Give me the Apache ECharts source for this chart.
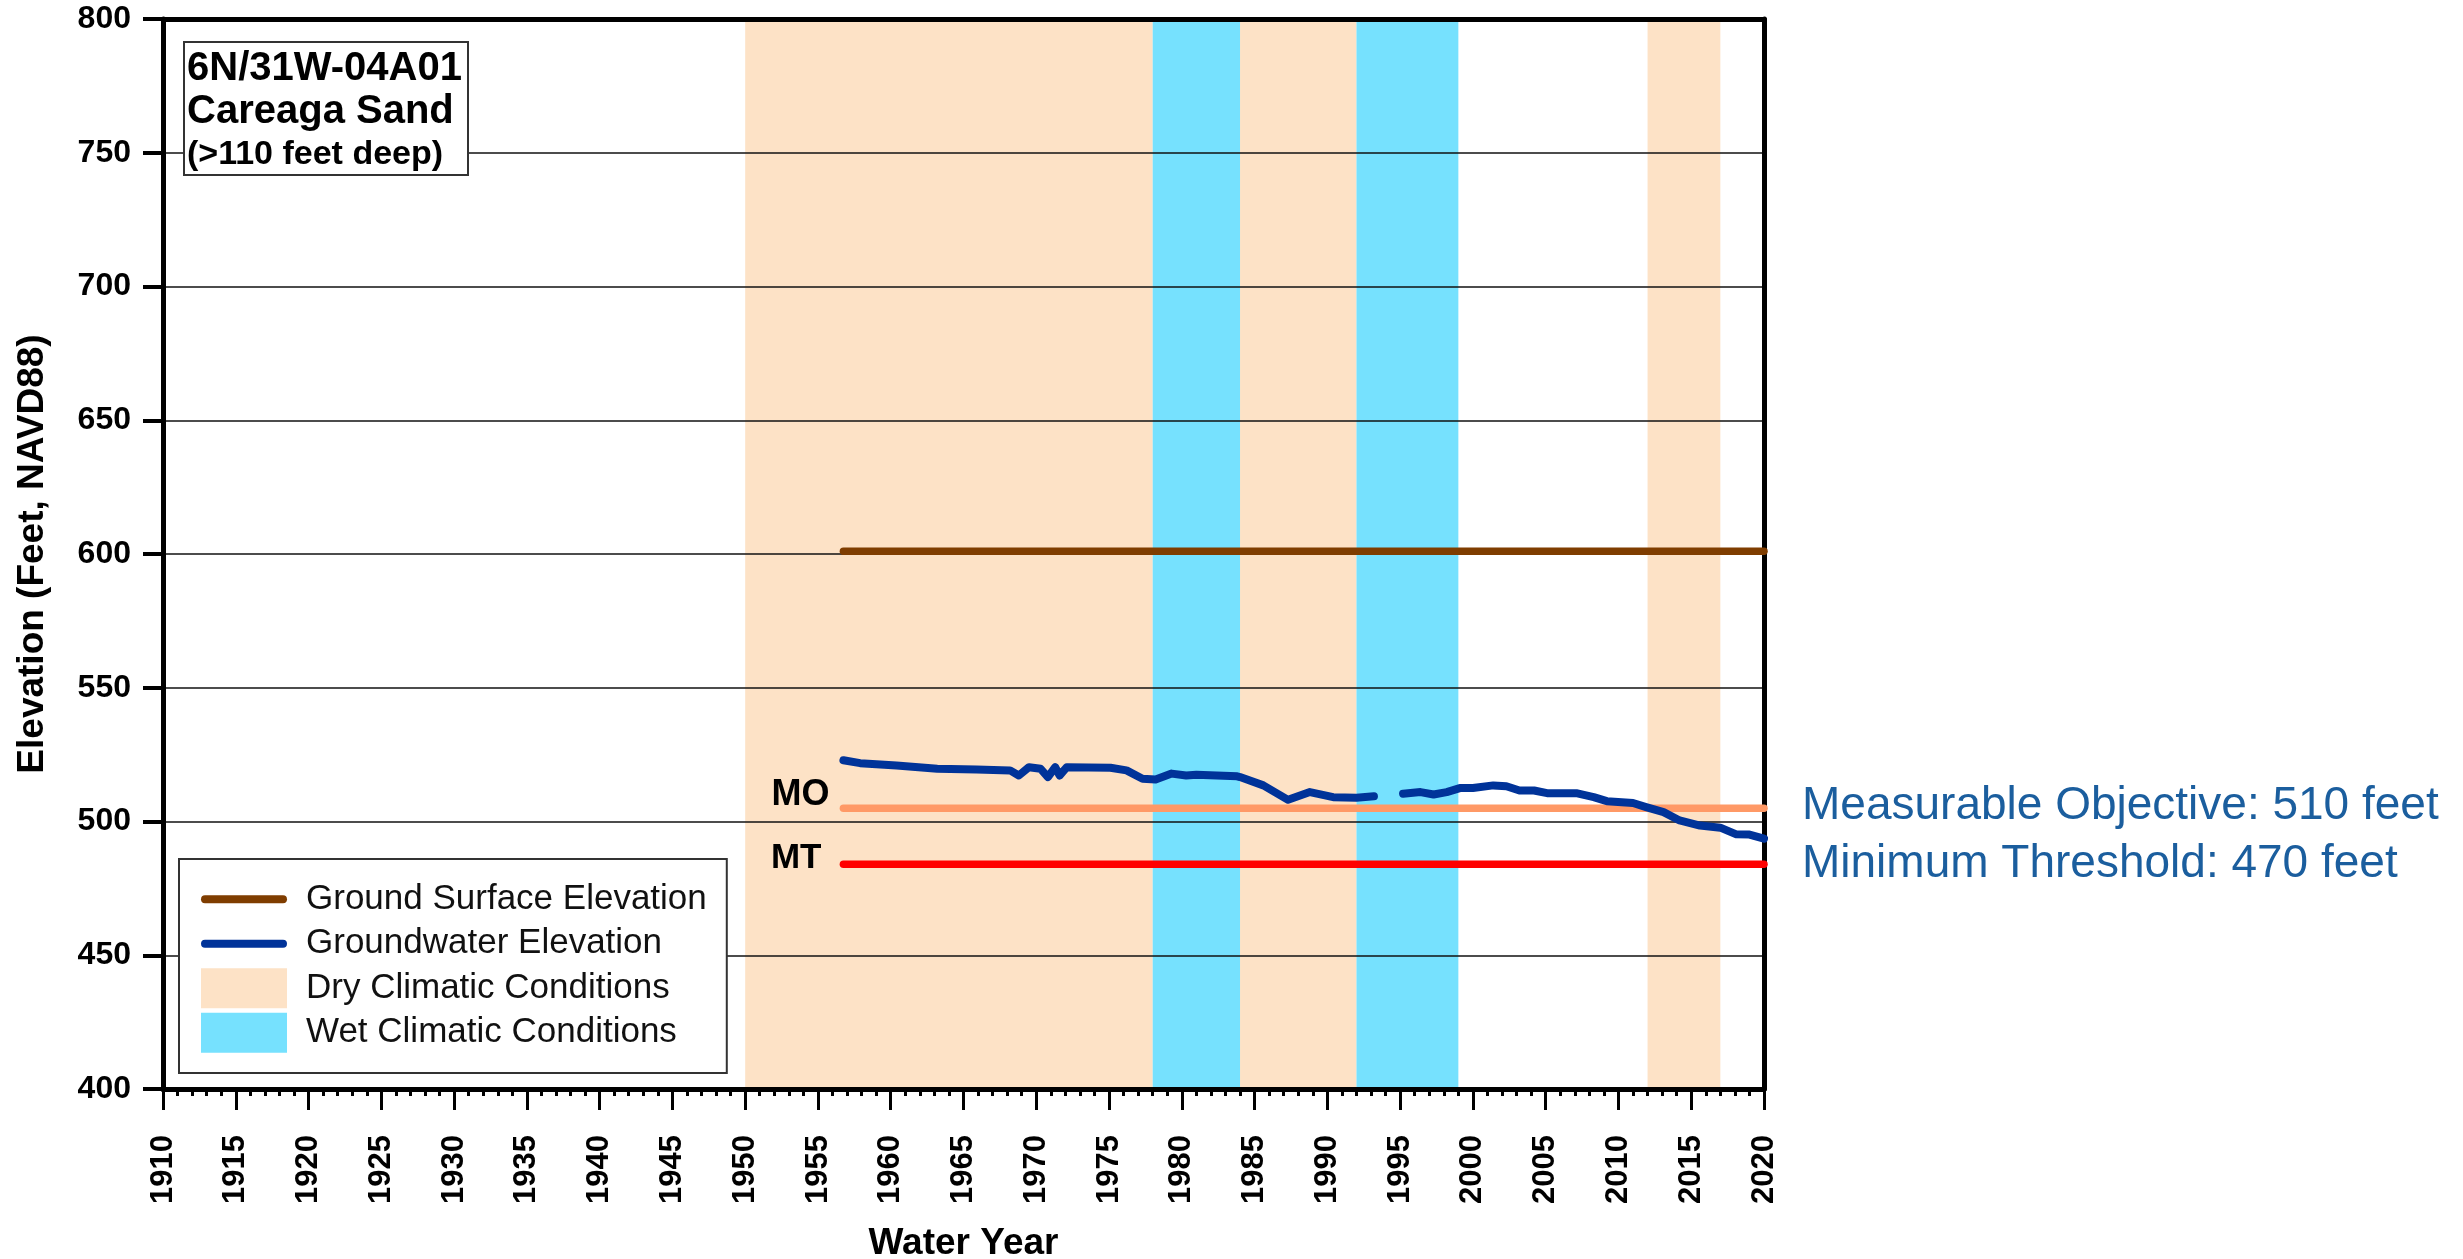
<!DOCTYPE html>
<html>
<head>
<meta charset="utf-8">
<script src="https://cdn.jsdelivr.net/npm/echarts@6/dist/echarts.min.js"></script>
<style>
html,body{margin:0;padding:0;background:#fff;}
#c{width:2463px;height:1259px;}
</style>
</head>
<body>
<div id="c"></div>
<script>
// ---- data ----
const xTickMin = 1910, xTickMax = 2020, xTickStep = 5;
const yTickMin = 400, yTickMax = 800, yTickStep = 50;

const dryBands = [[1950, 1978], [1984, 1992], [2012, 2017]];
const wetBands = [[1978, 1984], [1992, 1999]];

const groundYears = [1956.75, 2020];
const groundValues = [601, 601];

const moYears = [1956.75, 2020];
const moValues = [505, 505];
const mtYears = [1956.75, 2020];
const mtValues = [484, 484];

const gwYears = [1956.75, 1957.9, 1960.4, 1963.2, 1965.9, 1968.2, 1968.8, 1969.5, 1970.3, 1970.8,
  1971.3, 1971.6, 1972.1, 1975.1, 1976.2, 1977.3, 1978.2, 1979.3, 1980.3, 1981.0,
  1983.8, 1984.0, 1985.6, 1987.3, 1988.8, 1990.4, 1992.0, 1993.2, 1994.2, 1995.2,
  1996.4, 1997.3, 1998.2, 1999.1, 2000.0, 2001.4, 2002.3, 2003.2, 2004.2, 2005.1,
  2007.1, 2008.3, 2009.2, 2011.0, 2011.9, 2013.1, 2014.2, 2015.6, 2017.0, 2018.1,
  2019.0, 2020.0];
const gwValues = [522.9, 521.8, 520.9, 519.7, 519.4, 519.1, 517.2, 520.3, 519.7, 516.6,
  520.3, 517.2, 520.3, 520.1, 519.1, 516.0, 515.7, 517.9, 517.2, 517.5,
  516.9, 516.6, 513.5, 508.1, 511.0, 509.1, 508.9, 509.4, null, 510.4,
  511.0, 510.1, 511.0, 512.5, 512.5, 513.5, 513.2, 511.6, 511.6, 510.6,
  510.6, 509.1, 507.6, 506.9, 505.4, 503.5, 500.4, 498.5, 497.7, 495.2,
  495.1, 493.6];

const titleLines = ['6N/31W-04A01', 'Careaga Sand', '(>110 feet deep)'];
const moText = 'Measurable Objective: 510 feet';
const mtText = 'Minimum Threshold: 470 feet';

// ---- chart ----
const FONT = 'Liberation Sans, Arial, sans-serif';
const zip = (xs, ys) => xs.map((x, i) => [x, ys[i]]);
const linePath = 'path://M4,0 H82 A4,4 0 0 1 82,8 H4 A4,4 0 0 1 4,0 Z';

const chart = echarts.init(document.getElementById('c'), null, {renderer: 'canvas'});

const option = {
  animation: false,
  backgroundColor: '#fff',
  textStyle: {fontFamily: FONT},
  grid: {left: 163, right: 699, top: 19, bottom: 170, containLabel: false, outerBoundsMode: 'none'},
  title: {
    left: 184, top: 40,
    text: '{a|' + titleLines[0] + '}\n{a|' + titleLines[1] + '}\n{b|' + titleLines[2] + '}',
    textStyle: {
      rich: {
        a: {fontSize: 40, fontWeight: 'bold', lineHeight: 42.5, color: '#000', fontFamily: FONT},
        b: {fontSize: 34, fontWeight: 'bold', lineHeight: 42.5, color: '#000', fontFamily: FONT}
      }
    },
    padding: [8, 6, 4, 3],
    borderColor: '#333', borderWidth: 2, backgroundColor: '#fff'
  },
  legend: {
    orient: 'vertical', left: 179, top: 859,
    itemWidth: 86, itemHeight: 40, itemGap: 0,
    padding: [18, 20, 18, 22],
    borderColor: '#333', borderWidth: 2, backgroundColor: '#fff',
    selectedMode: false,
    textStyle: {fontSize: 35, color: '#111', fontFamily: FONT, lineHeight: 44.5, padding: [0, 0, 0, 14]},
    data: [
      {name: 'Ground Surface Elevation', icon: linePath},
      {name: 'Groundwater Elevation', icon: linePath},
      {name: 'Dry Climatic Conditions', icon: 'rect'},
      {name: 'Wet Climatic Conditions', icon: 'rect'}
    ]
  },
  xAxis: [{
    type: 'value', min: xTickMin, max: xTickMax, interval: xTickStep, position: 'bottom', z: 2,
    name: 'Water Year', nameLocation: 'middle', nameGap: 136,
    nameTextStyle: {fontSize: 37, fontWeight: 'bold', color: '#000', fontFamily: FONT},
    axisLine: {show: true, onZero: false, lineStyle: {color: '#000', width: 5}},
    axisTick: {show: true, inside: false, length: 21, lineStyle: {color: '#000', width: 3}},
    minorTick: {show: true, splitNumber: 5, length: 7, lineStyle: {color: '#000', width: 3}},
    axisLabel: {rotate: 90, fontSize: 31, fontWeight: 'bold', color: '#000', margin: 46,
      align: 'right', verticalAlign: 'middle', fontFamily: FONT,
      formatter: v => String(v)},
    splitLine: {show: false}
  }, {
    type: 'value', min: xTickMin, max: xTickMax, position: 'top', z: 2,
    axisLine: {show: true, onZero: false, lineStyle: {color: '#000', width: 5}},
    axisTick: {show: false}, axisLabel: {show: false}, splitLine: {show: false}
  }],
  yAxis: [{
    type: 'value', min: yTickMin, max: yTickMax, interval: yTickStep, position: 'left', z: 2,
    name: 'Elevation (Feet, NAVD88)', nameLocation: 'middle', nameGap: 112, nameRotate: 90,
    nameTextStyle: {fontSize: 37, fontWeight: 'bold', color: '#000', fontFamily: FONT},
    axisLine: {show: true, onZero: false, lineStyle: {color: '#000', width: 5}},
    axisTick: {show: true, inside: false, length: 20, lineStyle: {color: '#000', width: 4}},
    axisLabel: {fontSize: 32, fontWeight: 'bold', color: '#000', margin: 32, fontFamily: FONT},
    splitLine: {show: true, lineStyle: {color: '#111', width: 1.5}}
  }, {
    type: 'value', min: yTickMin, max: yTickMax, position: 'right', z: 2,
    axisLine: {show: true, onZero: false, lineStyle: {color: '#000', width: 5}},
    axisTick: {show: false}, axisLabel: {show: false}, splitLine: {show: false}
  }],
  series: [
    {
      name: 'Dry Climatic Conditions', type: 'line', data: [], z: 1,
      itemStyle: {color: '#FDE2C6'}, lineStyle: {color: '#FDE2C6'},
      markArea: {silent: true, itemStyle: {color: '#FDE2C6'},
        data: dryBands.map(b => [{xAxis: b[0]}, {xAxis: b[1]}])}
    },
    {
      name: 'Wet Climatic Conditions', type: 'line', data: [], z: 1,
      itemStyle: {color: '#76E1FE'}, lineStyle: {color: '#76E1FE'},
      markArea: {silent: true, itemStyle: {color: '#76E1FE'},
        data: wetBands.map(b => [{xAxis: b[0]}, {xAxis: b[1]}])}
    },
    {
      name: 'Ground Surface Elevation', type: 'line', z: 3, showSymbol: false, symbol: 'none',
      data: zip(groundYears, groundValues),
      itemStyle: {color: '#7F3D00'}, lineStyle: {color: '#7F3D00', width: 7.5, cap: 'round'}
    },
    {
      name: 'MO', type: 'line', z: 3, showSymbol: false, symbol: 'none',
      data: zip(moYears, moValues),
      itemStyle: {color: '#FF9966'}, lineStyle: {color: '#FF9966', width: 7.5, cap: 'round'},
      endLabel: {show: true, formatter: moText, color: '#1B5E9E', fontSize: 46, fontFamily: FONT,
        distance: 38, offset: [0, -2]}
    },
    {
      name: 'MT', type: 'line', z: 3, showSymbol: false, symbol: 'none',
      data: zip(mtYears, mtValues),
      itemStyle: {color: '#FF0000'}, lineStyle: {color: '#FF0000', width: 7.5, cap: 'round'},
      endLabel: {show: true, formatter: mtText, color: '#1B5E9E', fontSize: 46, fontFamily: FONT,
        distance: 38, offset: [0, 0]}
    },
    {
      name: 'Groundwater Elevation', type: 'line', z: 4, showSymbol: false, symbol: 'none',
      connectNulls: false,
      data: zip(gwYears, gwValues),
      itemStyle: {color: '#003399'}, lineStyle: {color: '#003399', width: 8, cap: 'round', join: 'round'}
    }
  ]
};
chart.setOption(option);

const moPt = chart.convertToPixel({gridIndex: 0}, [moYears[0], moValues[0]]);
const mtPt = chart.convertToPixel({gridIndex: 0}, [mtYears[0], mtValues[0]]);
chart.setOption({
  graphic: [
    {type: 'text', x: moPt[0] - 14, y: moPt[1] - 13, z: 10,
      style: {text: 'MO', fontSize: 36, fontWeight: 'bold', fill: '#000', fontFamily: FONT,
        textAlign: 'right', textVerticalAlign: 'middle'}},
    {type: 'text', x: mtPt[0] - 22, y: mtPt[1] - 6, z: 10,
      style: {text: 'MT', fontSize: 35, fontWeight: 'bold', fill: '#000', fontFamily: FONT,
        textAlign: 'right', textVerticalAlign: 'middle'}}
  ]
});
</script>
</body>
</html>
